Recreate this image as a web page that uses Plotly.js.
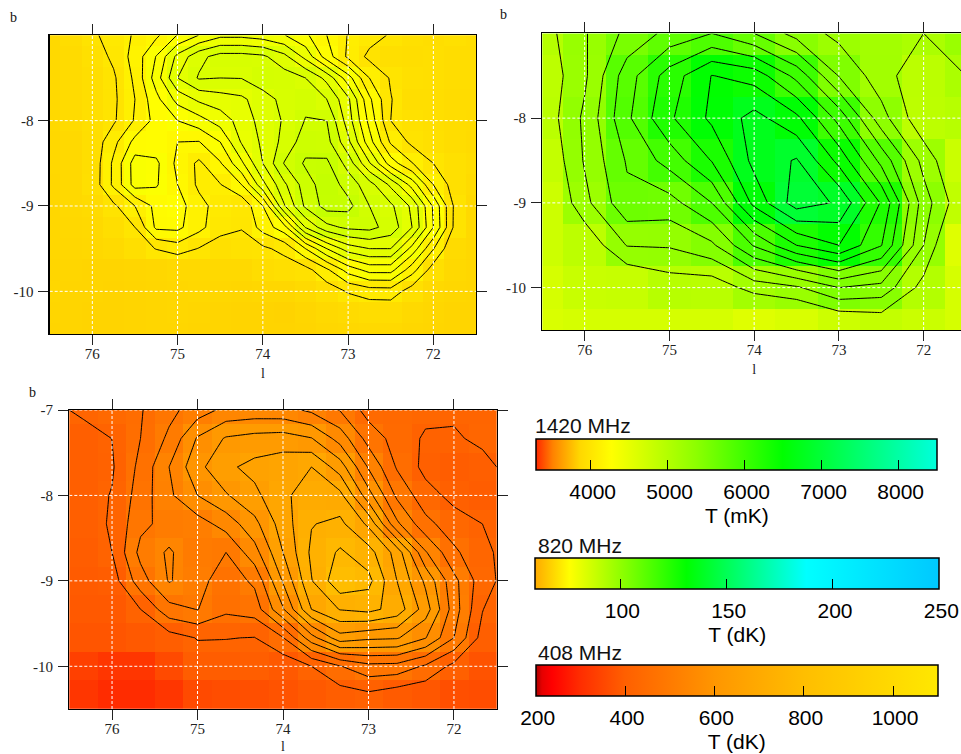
<!DOCTYPE html>
<html><head><meta charset="utf-8">
<script src="https://cdn.plot.ly/plotly-3.0.1.min.js"></script>
<style>html,body{margin:0;padding:0;overflow:hidden;background:#fff}</style>
</head><body><div id="g" style="width:980px;height:754px"></div>
<script>
// grid coordinates of the three surveys (galactic l, b)
const lon820 = [76.5,76.25,76,75.75,75.5,75.25,75,74.75,74.5,74.25,74,73.75,73.5,73.25,73,72.75,72.5,72.25,72,71.75,71.5];
const lat820 = [-7,-7.25,-7.5,-7.75,-8,-8.25,-8.5,-8.75,-9,-9.25,-9.5,-9.75,-10,-10.25,-10.5];
const lon1420 = [76.5,76,75.5,75,74.5,74,73.5,73,72.5,72,71.5];
const lat1420 = [-7,-7.5,-8,-8.5,-9,-9.5,-10,-10.5];
const lon408 = [76.667,76.333,76,75.667,75.333,75,74.667,74.333,74,73.667,73.333,73,72.667,72.333,72,71.667,71.333];
const lat408 = [-7,-7.333,-7.667,-8,-8.333,-8.667,-9,-9.333,-9.667,-10,-10.333];

// brightness, in contour-level units
const levels820 = [
[-.2,.2,.8,1.45,2.12,2.8,4.05,5.02,5.75,5.75,5.5,5.05,4.2,3.0,1.95,1.4,.9,.5,.3,.5,.3],
[-.3,0,.45,1.2,2.4,4.05,6.3,7.7,8.4,8.4,8.2,7.3,5.7,3.5,1.8,.75,.4,.3,.4,.2,.2],
[-.3,0,.3,.85,2.2,4.5,7.0,8.1,8.0,8.03,8.6,8.5,8.0,6.7,4.45,2.0,.9,.5,.4,.2,.2],
[-.3,0,.3,.8,2.0,3.7,5.35,6.2,6.55,6.8,7.55,8.3,8.75,8.0,6.2,3.2,1.05,.3,.3,.1,.1],
[-.3,0,.35,.85,2.1,3.35,4.0,4.6,5.45,6.4,7.4,8.1,9.05,9.0,6.5,3.7,1.0,.6,.4,.2,.1],
[-.4,-.2,.3,1.7,3.3,3.4,3.0,2.95,4.0,6.1,7.2,8.3,9.55,9.35,7.25,4.4,1.85,.75,.5,.2,0],
[-.4,-.3,.3,2.2,4.45,4.2,2.75,1.8,2.9,4.8,7.0,9.05,10.15,10.2,8.6,6.1,3.5,2.05,1.0,.5,.2],
[-.5,-.3,.35,2.2,4.4,4.1,3.0,1.8,1.95,3.0,5.7,7.8,9.5,10.6,9.6,8.4,6.8,4.6,2.0,.5,0],
[-.5,-.3,0,.8,2.0,3.3,3.45,2.35,1.55,1.2,3.0,6.9,9.2,10.4,10.3,9.0,8.2,6.8,3.85,.8,-.2],
[-.5,-.4,-.2,.3,1.0,3.2,3.25,2.3,1.35,1.05,2.4,3.6,7.05,8.7,9.2,9.3,8.6,7.0,4.0,.75,-.3],
[-.5,-.5,-.4,-.1,.4,1.05,1.5,.95,.5,.65,.8,1.3,3.0,5.0,6.5,7.0,7.0,4.65,2.05,0,-.4],
[-.6,-.6,-.7,-.7,-.6,-.5,-.3,-.3,-.3,-.2,.2,.4,.6,1.8,3.4,4.35,4.35,2.4,.5,-.2,-.5],
[-.5,-.7,-.7,-.8,-.7,-.6,-.5,-.4,-.5,-.6,-.5,-.5,-.1,.4,1.1,1.5,1.55,.5,-.2,-.5,-.6],
[-.6,-.7,-.8,-.8,-.7,-.6,-.5,-.6,-.7,-.8,-.8,-.9,-.6,-.3,0,.2,.2,-.2,-.5,-.7,-.7],
[-.7,-.7,-.8,-.8,-.7,-.6,-.6,-.7,-.7,-.8,-.8,-.8,-.7,-.5,-.4,-.3,-.3,-.5,-.6,-.7,-.7]];

const levels1420 = [
[.53,1.91,3.25,4.3,5.0,4.0,2.6,1.7,1.4,1.0,1.8],
[.2,1.82,4.55,6.45,8.03,7.6,5.7,2.95,1.43,.24,1.0],
[.27,2.2,4.8,6.85,8.2,9.35,8.25,5.65,2.4,.2,.4],
[-.15,2.1,4.1,5.4,7.05,9.3,10.1,7.7,4.7,1.65,-.5],
[-.6,1.7,3.74,3.6,5.0,8.3,10.5,9.87,6.9,2.5,0],
[-.6,.17,2.05,2.1,2.8,5.1,7.0,8.0,6.05,2.0,-1.5],
[-1,-.4,-.29,.4,.32,1.4,1.85,3.0,2.65,.6,-1],
[-1.2,-1,-1,-1,-1,-1.5,-1.2,-.6,-.15,-.5,-1]];

const levels408 = [
[.8,1.2,1.55,1.93,2.71,3.5,4.27,4.4,4.35,3.8,2.95,1.6,1.5,1.3,1.2,1.2,1.1],
[.4,.6,1.01,2.0,3.2,5.1,6.1,6.35,6.45,6.05,4.6,2.6,1.6,.85,.85,1.25,1.7],
[.3,.6,.9,2.25,4.0,5.7,6.8,7.3,7.6,8.0,6.5,3.9,1.9,.7,.5,.6,1.4],
[.3,.6,1.05,2.45,3.8,5.0,5.9,6.75,7.8,8.5,8.3,5.4,2.8,1.4,.7,.5,.4],
[.3,.6,1.1,2.75,3.35,3.55,4.4,5.7,7.5,8.95,9.25,7.8,4.2,2.3,1.45,1.0,.5],
[.3,.5,1.0,3.3,4.15,3.2,3.0,4.6,7.0,9.2,10.15,9.4,7.6,4.1,2.2,1.25,.6],
[.2,.4,.5,2.55,4.08,3.4,2.4,3.2,6.1,8.95,10.75,10.3,8.0,5.8,3.3,1.45,.5],
[0,.3,.3,1.0,2.65,3.03,2.2,2.45,4.9,8.0,9.05,9.3,8.6,6.5,3.5,1.05,-.3],
[0,.1,.1,.3,.55,1.05,1.03,.97,1.95,4.6,6.6,6.2,6.1,5.05,3.0,.6,-.5],
[-.5,-1,-1.5,-1.5,-.5,.5,.5,.55,.3,1.0,1.95,2.7,2.65,1.85,.7,0,-.6],
[-1,-1.5,-2,-2,-1.5,-.5,-.3,-.2,0,.3,.54,.8,.4,.2,-.2,-.3,-.6]];

const xTicks = [76,75,74,73,72];
const yTicksTop = [-8,-9,-10];
const yTicksBottom = [-7,-8,-9,-10];

// colour scales
const scale1420 = [[0,'rgb(255,40,0)'],[.042,'rgb(255,130,0)'],[.109,'rgb(255,215,0)'],[.188,'rgb(255,255,0)'],[.4,'rgb(140,255,0)'],[.615,'rgb(0,255,0)'],[1,'rgb(0,255,220)']];
const scale820 = [[0,'rgb(255,170,0)'],[.086,'rgb(255,255,0)'],[.375,'rgb(0,255,0)'],[.672,'rgb(0,255,255)'],[1,'rgb(0,200,255)']];
const scale408 = [[0,'rgb(170,0,0)'],[.015,'rgb(230,0,0)'],[.04,'rgb(255,0,0)'],[.11,'rgb(255,45,0)'],[.22,'rgb(255,95,0)'],[.444,'rgb(255,150,0)'],[.667,'rgb(255,190,0)'],[.889,'rgb(255,218,0)'],[1,'rgb(255,232,0)']];

const W = 980, H = 754;
const serif = 'Liberation Serif, Times New Roman, serif';
const sans = 'Liberation Sans, Arial, sans-serif';

const panels = [
 {ax:'',  box:[49.7,476,35.3,334],  lon:lon820,  lat:lat820,  lv:levels820,  base:69.5, step:1.85, zr:[60,250],     cs:scale820,  yt:yTicksTop,
  bar:{x:535.3,y:558,len:404,ticks:[100,150,200,250],title:'T (dK)'}},
 {ax:'2', box:[542.3,966,33.4,330], lon:lon1420, lat:lat1420, lv:levels1420, base:4880, step:200,  zr:[3294,8502], cs:scale1420, yt:yTicksTop,
  bar:{x:536.3,y:439,len:401.4,ticks:[4000,5000,6000,7000,8000],title:'T (mK)'}},
 {ax:'3', box:[69.3,496.7,410,709], lon:lon408,  lat:lat408,  lv:levels408,  base:375,  step:39,   zr:[200,1100],  cs:scale408,  yt:yTicksBottom,
  bar:{x:535.7,y:665,len:402.3,ticks:[200,400,600,800,1000],title:'T (dK)'}}
];

const data = [], layout = {
  width:W, height:H, margin:{l:0,r:0,t:0,b:0,autoexpand:false},
  paper_bgcolor:'#fff', plot_bgcolor:'#fff', showlegend:false, shapes:[], annotations:[]
};

panels.forEach(p=>{
  const z = p.lv.map(r=>r.map(v=>p.base+p.step*v));
  const xa='x'+p.ax, ya='y'+p.ax;
  data.push({type:'heatmap',x:p.lon,y:p.lat,z:z,xaxis:xa,yaxis:ya,zmin:p.zr[0],zmax:p.zr[1],colorscale:p.cs,zsmooth:false,hoverinfo:'skip',
    colorbar:{orientation:'h',xref:'paper',yref:'paper',x:p.bar.x/W,y:1-p.bar.y/H,xanchor:'left',yanchor:'top',xpad:0,ypad:0,
      lenmode:'pixels',len:p.bar.len,thicknessmode:'pixels',thickness:31,outlinecolor:'#000',outlinewidth:1.5,borderwidth:0,
      tickmode:'array',tickvals:p.bar.ticks,ticks:'inside',ticklen:10,tickwidth:1,tickcolor:'#000',
      tickfont:{family:sans,size:21,color:'#000'},
      title:{text:p.bar.title,side:'bottom',font:{family:sans,size:21,color:'#000'}}}});
  data.push({type:'contour',x:p.lon,y:p.lat,z:z,xaxis:xa,yaxis:ya,showscale:false,hoverinfo:'skip',
    contours:{coloring:'none',start:p.base+p.step,end:p.base+10*p.step,size:p.step,showlabels:false},
    line:{color:'#000',width:1,smoothing:0}});
  const axc={showline:true,linecolor:'#000',linewidth:1.3,mirror:'allticks',ticks:'outside',ticklen:10,tickwidth:1,tickcolor:'#222',
    showgrid:false,zeroline:false,tickfont:{family:serif,size:15,color:'#222'},tickmode:'array'};
  layout['xaxis'+p.ax]=Object.assign({},axc,{anchor:ya,domain:[p.box[0]/W,p.box[1]/W],range:[76.5,71.5],tickvals:xTicks,ticktext:xTicks.map(String),
    ticklabelstandoff:-4,title:{text:'l',font:{family:serif,size:14,color:'#222'},standoff:7}});
  layout['yaxis'+p.ax]=Object.assign({},axc,{anchor:xa,domain:[1-p.box[3]/H,1-p.box[2]/H],range:[-10.5,-7],tickvals:p.yt,ticktext:p.yt.map(String),ticklabelstandoff:2});
  xTicks.forEach(t=>layout.shapes.push({type:'line',layer:'above',xref:xa,yref:ya,x0:t,x1:t,y0:-10.5,y1:-7,line:{color:'#fff',width:1,dash:'3px,2px'}}));
  p.yt.forEach(t=>layout.shapes.push({type:'line',layer:'above',xref:xa,yref:ya,x0:76.5,x1:71.5,y0:t,y1:t,line:{color:'#fff',width:1,dash:'3px,2px'}}));
});

function label(text,px,py,font,size,anchor){
  layout.annotations.push({text:text,xref:'paper',yref:'paper',x:px/W,y:1-py/H,xanchor:anchor,yanchor:'middle',showarrow:false,font:{family:font,size:size,color:'#111'}});
}
label('b',13,17,serif,14,'center');
label('b',504,15,serif,14,'center');
label('b',32,392,serif,14,'center');
label('1420 MHz',533,425.5,sans,21,'left');
label('820 MHz',535.5,545,sans,21,'left');
label('408 MHz',535.5,652,sans,21,'left');

// the reference sets the bar tick labels and titles a little lower than the library does
function nudgeBarLabels(gd){
  gd.querySelectorAll('.colorbar text').forEach(t=>{
    if(t.dataset.nudged) return;
    t.dataset.nudged='1';
    const shift=t.closest('.cbaxis')?'translate(2,3)':'translate(0,2)';
    t.setAttribute('transform',shift+' '+(t.getAttribute('transform')||''));
  });
}
Plotly.newPlot('g',data,layout,{displayModeBar:false,staticPlot:true}).then(gd=>{
  nudgeBarLabels(gd);
  setTimeout(()=>nudgeBarLabels(gd),50);
  setTimeout(()=>nudgeBarLabels(gd),200);
});
</script></body></html>
